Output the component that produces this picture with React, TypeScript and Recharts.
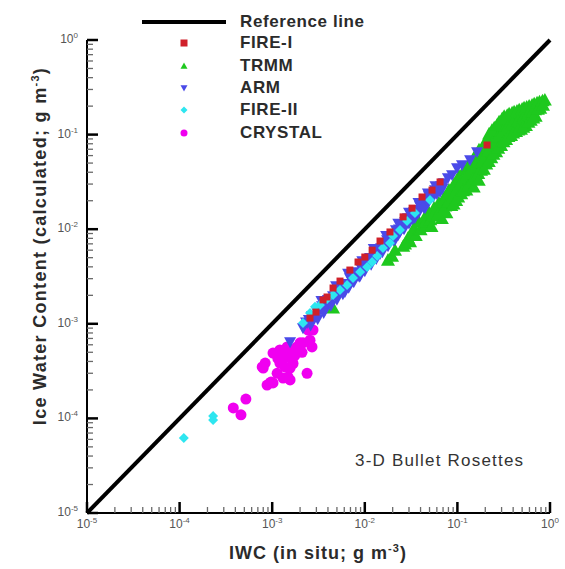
import { ScatterChart, Scatter, XAxis, YAxis, ReferenceLine, Label } from "recharts";

const FONT = "'Liberation Sans', Arial, Helvetica, sans-serif";

// IWC in situ vs calculated, g m-3
const fire1: [number, number][] = [
  [2.56e-3, 1.15e-3], [2.97e-3, 1.33e-3], [3.54e-3, 1.79e-3], [3.91e-3, 1.92e-3], [4.54e-3, 2.39e-3],
  [5.4e-3, 2.83e-3], [6.9e-3, 3.7e-3], [8.45e-3, 4.5e-3], [1.0e-2, 5.08e-3], [1.2e-2, 6.0e-3],
  [1.46e-2, 7.5e-3], [1.87e-2, 9.35e-3], [2.59e-2, 1.35e-2], [3.24e-2, 1.67e-2], [4.15e-2, 2.19e-2],
  [5.32e-2, 2.59e-2], [6.5e-2, 3.16e-2], [0.209, 7.76e-2],
];

const trmm: [number, number][] = [
  [4.54e-3, 1.47e-3],
  [1.78e-2, 4.72e-3], [1.97e-2, 5.2e-3], [2.12e-2, 6.0e-3],
  [2.6e-2, 6.6e-3], [2.72e-2, 6.98e-3], [2.93e-2, 8.07e-3], [3.08e-2, 7.4e-3], [3.24e-2, 8.9e-3],
  [3.4e-2, 1.03e-2], [3.55e-2, 8.6e-3], [3.85e-2, 1.19e-2], [4.0e-2, 9.9e-3],
  [4.4e-2, 1.31e-2], [4.55e-2, 1.1e-2], [4.5e-2, 1.2e-2],
  [4.9e-2, 1.52e-2], [5.1e-2, 1.26e-2], [5.25e-2, 1.07e-2], [5.5e-2, 1.5e-2],
  [5.6e-2, 1.68e-2], [5.85e-2, 1.39e-2], [6.5e-2, 1.7e-2],
  [6.3e-2, 1.9e-2], [6.6e-2, 1.57e-2], [6.8e-2, 1.3e-2],
  [7.2e-2, 2.15e-2], [7.4e-2, 1.76e-2], [7.6e-2, 1.5e-2], [7.8e-2, 2.3e-2],
  [8.1e-2, 2.6e-2], [8.4e-2, 2.12e-2], [8.6e-2, 1.78e-2],
  [9.2e-2, 3.0e-2], [9.5e-2, 2.48e-2], [9.7e-2, 2.02e-2], [0.1, 3.2e-2],
  [0.104, 3.66e-2], [0.108, 2.85e-2], [0.11, 2.38e-2],
  [0.118, 4.2e-2], [0.122, 3.32e-2], [0.125, 2.6e-2], [0.13, 4.3e-2],
  [0.134, 4.9e-2], [0.138, 3.85e-2], [0.141, 3.0e-2],
  [0.151, 5.7e-2], [0.156, 4.42e-2], [0.16, 3.5e-2], [0.16, 5.0e-2],
  [0.171, 6.9e-2], [0.176, 5.4e-2], [0.18, 4.22e-2], [0.185, 6.0e-2],
  [0.195, 8.0e-2], [0.2, 6.2e-2], [0.205, 4.9e-2],
  [0.22, 0.102], [0.226, 7.6e-2], [0.232, 5.7e-2], [0.24, 0.1],
  [0.25, 0.118], [0.257, 8.8e-2], [0.262, 6.6e-2],
  [0.282, 0.137], [0.29, 0.101], [0.296, 7.7e-2], [0.3, 0.12],
  [0.32, 0.156], [0.329, 0.118], [0.336, 8.9e-2], [0.35, 0.14],
  [0.362, 0.166], [0.372, 0.13], [0.38, 9.8e-2],
  [0.41, 0.174], [0.42, 0.137], [0.43, 0.108], [0.45, 0.16],
  [0.465, 0.183], [0.476, 0.144], [0.486, 0.114],
  [0.525, 0.192], [0.54, 0.158], [0.55, 0.125], [0.58, 0.18],
  [0.595, 0.2], [0.61, 0.166], [0.62, 0.142],
  [0.675, 0.212], [0.69, 0.183], [0.7, 0.157],
  [0.77, 0.222], [0.785, 0.19], [0.88, 0.232],
  // in-between readings, the cloud is solid
  [5.4e-2, 1.38e-2], [6.1e-2, 1.72e-2], [6.2e-2, 1.45e-2], [7.0e-2, 1.95e-2], [7.1e-2, 1.62e-2],
  [7.9e-2, 2.35e-2], [8.0e-2, 1.95e-2], [8.9e-2, 2.75e-2], [9.0e-2, 2.25e-2], [9.1e-2, 1.85e-2],
  [0.1, 2.7e-2], [0.102, 2.2e-2], [0.112, 3.25e-2], [0.115, 2.55e-2], [0.127, 3.75e-2],
  [0.13, 2.85e-2], [0.144, 4.4e-2], [0.148, 3.4e-2], [0.15, 2.8e-2], [0.165, 5.1e-2],
  [0.168, 3.9e-2], [0.17, 3.3e-2], [0.188, 7.2e-2], [0.19, 5.4e-2], [0.193, 4.3e-2],
  [0.21, 8.8e-2], [0.215, 6.7e-2], [0.218, 5.2e-2], [0.236, 0.111], [0.24, 8.2e-2],
  [0.245, 6.2e-2], [0.268, 0.126], [0.272, 9.4e-2], [0.276, 7.2e-2], [0.305, 0.148],
  [0.31, 0.108], [0.315, 8.4e-2], [0.345, 0.16], [0.35, 0.122], [0.355, 9.6e-2],
  [0.39, 0.17], [0.395, 0.133], [0.4, 0.104], [0.44, 0.178], [0.45, 0.14],
  [0.455, 0.112], [0.5, 0.187], [0.51, 0.15], [0.515, 0.12], [0.56, 0.196],
  [0.575, 0.162], [0.585, 0.135], [0.64, 0.206], [0.65, 0.175], [0.66, 0.15],
  [0.725, 0.217], [0.74, 0.186], [0.83, 0.228], [0.84, 0.205],
];

const arm: [number, number][] = [
  [1.56e-3, 6.4e-4], [2.15e-3, 9.0e-4], [2.38e-3, 1.02e-3], [2.32e-3, 1.04e-3], [2.49e-3, 1.1e-3],
  [2.69e-3, 1.21e-3], [2.82e-3, 1.15e-3], [3.05e-3, 1.33e-3], [3.28e-3, 1.4e-3], [3.45e-3, 1.54e-3],
  [3.72e-3, 1.58e-3], [3.72e-3, 1.4e-3], [4.0e-3, 1.79e-3], [4.2e-3, 1.7e-3], [4.54e-3, 1.97e-3],
  [4.89e-3, 2.17e-3], [5.14e-3, 2.01e-3], [5.53e-3, 2.33e-3], [5.97e-3, 2.51e-3], [6.1e-3, 2.17e-3],
  [6.43e-3, 2.64e-3], [6.9e-3, 3.05e-3], [7.28e-3, 2.83e-3], [7.83e-3, 3.36e-3], [8.45e-3, 3.53e-3],
  [8.9e-3, 3.2e-3], [9.1e-3, 3.89e-3], [9.8e-3, 4.08e-3], [1.06e-2, 4.5e-3], [1.14e-2, 4.97e-3],
  [1.2e-2, 4.72e-3], [1.29e-2, 5.6e-3], [1.39e-2, 6.0e-3], [1.46e-2, 5.47e-3], [1.5e-2, 6.32e-3],
  [1.61e-2, 7.14e-3], [1.74e-2, 7.7e-3], [1.87e-2, 8.07e-3], [2.02e-2, 8.9e-3], [2.12e-2, 7.7e-3],
  [2.17e-2, 9.8e-3], [2.34e-2, 1.0e-2], [2.4e-2, 9.35e-3], [2.52e-2, 1.13e-2], [2.72e-2, 1.19e-2],
  [2.93e-2, 1.31e-2], [3.16e-2, 1.41e-2], [3.4e-2, 1.52e-2], [3.48e-2, 1.31e-2], [3.66e-2, 1.6e-2],
  [3.94e-2, 1.76e-2], [4.25e-2, 1.89e-2], [4.47e-2, 1.67e-2], [4.58e-2, 2.04e-2], [4.93e-2, 2.24e-2],
  [5.32e-2, 2.36e-2], [5.73e-2, 2.59e-2], [6.18e-2, 2.73e-2], [6.5e-2, 2.47e-2], [6.65e-2, 2.86e-2],
  [7.16e-2, 3.08e-2], [7.9e-2, 3.48e-2], [8.75e-2, 3.74e-2], [9.9e-2, 4.44e-2], [0.112, 4.78e-2],
  [0.137, 5.39e-2], [0.163, 6.55e-2],
  // lower and upper side of the band
  [2.6e-3, 9.6e-4], [3.1e-3, 1.12e-3], [3.6e-3, 1.3e-3], [4.3e-3, 1.55e-3], [5.0e-3, 1.8e-3],
  [5.8e-3, 2.05e-3], [6.7e-3, 2.4e-3], [7.6e-3, 2.75e-3], [8.7e-3, 3.15e-3], [1.0e-2, 3.6e-3],
  [1.17e-2, 4.2e-3], [1.33e-2, 4.85e-3], [1.55e-2, 5.7e-3], [1.78e-2, 6.6e-3], [2.05e-2, 7.6e-3],
  [2.3e-2, 8.7e-3], [2.65e-2, 1.0e-2], [3.0e-2, 1.15e-2], [3.3e-2, 1.28e-2], [3.8e-2, 1.48e-2],
  [4.3e-2, 1.7e-2], [4.8e-2, 1.9e-2], [5.5e-2, 2.2e-2], [6.0e-2, 2.35e-2], [6.9e-2, 2.7e-2],
  [3.4e-3, 1.75e-3], [4.9e-3, 2.5e-3], [6.6e-3, 3.4e-3], [9.4e-3, 4.6e-3], [1.25e-2, 6.2e-3],
  [1.7e-2, 8.5e-3], [2.3e-2, 1.15e-2], [3.0e-2, 1.5e-2], [3.8e-2, 1.9e-2], [4.8e-2, 2.4e-2],
  [5.8e-2, 2.85e-2],
];

const fire2: [number, number][] = [
  [1.11e-4, 6.2e-5], [2.3e-4, 1.06e-4], [2.3e-4, 9.6e-5], [2.15e-3, 1.02e-3], [2.56e-3, 1.3e-3],
  [2.9e-3, 1.51e-3], [3.28e-3, 1.58e-3], [3.91e-3, 1.83e-3], [4.54e-3, 2.01e-3], [5.4e-3, 2.28e-3],
  [6.43e-3, 2.57e-3], [7.46e-3, 3.05e-3], [8.9e-3, 3.53e-3], [1.06e-2, 3.98e-3], [1.2e-2, 4.5e-3],
  [1.36e-2, 5.2e-3], [1.57e-2, 6.32e-3], [1.87e-2, 7.14e-3], [2.02e-2, 8.5e-3], [2.4e-2, 9.8e-3],
  [2.86e-2, 1.22e-2], [3.48e-2, 1.48e-2], [5.06e-2, 2.04e-2],
];

const crystal: [number, number][] = [
  [3.8e-4, 1.29e-4], [4.6e-4, 1.09e-4], [5.2e-4, 1.6e-4], [7.8e-4, 3.5e-4], [8.4e-4, 3.85e-4],
  [8.0e-4, 3.4e-4], [8.8e-4, 2.25e-4], [9.5e-4, 2.37e-4], [9.7e-4, 2.42e-4], [1.02e-3, 4.9e-4],
  [1.02e-3, 2.37e-4], [1.13e-3, 3.0e-4], [1.15e-3, 4.3e-4], [1.21e-3, 3.85e-4], [1.21e-3, 5.3e-4],
  [1.28e-3, 4.9e-4], [1.31e-3, 2.67e-4], [1.37e-3, 5.0e-4], [1.37e-3, 3.5e-4], [1.45e-3, 4.46e-4],
  [1.45e-3, 5.7e-4], [1.48e-3, 2.74e-4], [1.56e-3, 3.4e-4], [1.56e-3, 2.55e-4], [1.64e-3, 4.14e-4],
  [1.68e-3, 5.3e-4], [1.68e-3, 3.8e-4], [1.75e-3, 4.6e-4], [1.85e-3, 5.7e-4], [2.0e-3, 6.3e-4],
  [2.1e-3, 5.0e-4], [2.15e-3, 6.3e-4], [2.38e-3, 3.0e-4], [2.56e-3, 6.7e-4], [2.69e-3, 5.7e-4],
  [2.76e-3, 8.6e-4], [2.44e-3, 8.6e-4],
];

const decades = [1e-5, 1e-4, 1e-3, 1e-2, 1e-1, 1];
const minorSteps = [2, 3, 4, 5, 6, 7, 8, 9];
const logTicks = decades.flatMap((d, i) =>
  i === decades.length - 1 ? [d] : [d, ...minorSteps.map((m) => +(d * m).toPrecision(3))]
);

const toPoints = (arr: [number, number][]) => arr.map(([x, y]) => ({ x, y }));

const COLORS = {
  fire1: "#d0202a",
  trmm: "#1ec81e",
  arm: "#4a4ae8",
  fire2: "#2ee6f0",
  crystal: "#f000f0",
};

const Square = ({ cx, cy, fill, s = 3 }: any) => <rect x={cx - s} y={cy - s} width={s * 2} height={s * 2} fill={fill} />;
const TriUp = ({ cx, cy, fill, s = 5 }: any) => (
  <polygon points={`${cx},${cy - s} ${cx - s},${cy + s * 0.8} ${cx + s},${cy + s * 0.8}`} fill={fill} />
);
const TriDown = ({ cx, cy, fill, s = 5 }: any) => (
  <polygon points={`${cx - s},${cy - s * 0.8} ${cx + s},${cy - s * 0.8} ${cx},${cy + s}`} fill={fill} />
);
const Diamond = ({ cx, cy, fill, s = 5 }: any) => (
  <polygon points={`${cx},${cy - s} ${cx + s},${cy} ${cx},${cy + s} ${cx - s},${cy}`} fill={fill} />
);
const Dot = ({ cx, cy, fill, s = 5 }: any) => <circle cx={cx} cy={cy} r={s} fill={fill} />;

const isMajor = (v: number) => Math.abs(Math.log10(v) - Math.round(Math.log10(v))) < 1e-6;

// ticks point into the plot; labels only on the decades
function XTick(props: any) {
  const x = Number(props.x);
  const y = Number(props.y);
  const v = props.payload.value;
  const major = isMajor(v);
  return (
    <g>
      <path d={`M${x},${y}V${y - (major ? 11 : 6)}`} stroke={major ? "#000" : "#6a6a6a"} strokeWidth={major ? 2.5 : 1.3} fill="none" />
      {major && (
        <text x={x} y={y + 15} textAnchor="middle" fontSize={12} fill="#555" fontFamily={FONT}>
          10<tspan dy={-5} fontSize={8}>{Math.round(Math.log10(v))}</tspan>
        </text>
      )}
    </g>
  );
}

function YTick(props: any) {
  const x = Number(props.x);
  const y = Number(props.y);
  const v = props.payload.value;
  const major = isMajor(v);
  return (
    <g>
      <path d={`M${x},${y}H${x + (major ? 11 : 6)}`} stroke={major ? "#000" : "#6a6a6a"} strokeWidth={major ? 2.5 : 1.3} fill="none" />
      {major && (
        <text x={x - 9} y={y + 3} textAnchor="end" fontSize={12} fill="#555" fontFamily={FONT}>
          10<tspan dy={-5} fontSize={8}>{Math.round(Math.log10(v))}</tspan>
        </text>
      )}
    </g>
  );
}

const legendRows = [
  { name: "FIRE-I", color: COLORS.fire1, Shape: Square, y: 43 },
  { name: "TRMM", color: COLORS.trmm, Shape: TriUp, y: 66 },
  { name: "ARM", color: COLORS.arm, Shape: TriDown, y: 88 },
  { name: "FIRE-II", color: COLORS.fire2, Shape: Diamond, y: 110 },
  { name: "CRYSTAL", color: COLORS.crystal, Shape: Dot, y: 133 },
];

const legendText = { marginLeft: 14, fontFamily: FONT, fontWeight: 700, fontSize: 17, color: "#2b2b2b", letterSpacing: 0.6 };

export default function App() {
  return (
    <div style={{ position: "absolute", left: 0, top: 0, width: 565, height: 569 }}>
      <ScatterChart width={565} height={569} margin={{ top: 40, right: 15, bottom: 0, left: 0 }}>
        <XAxis
          dataKey="x"
          type="number"
          scale="log"
          domain={[1e-5, 1]}
          ticks={logTicks}
          interval={0}
          height={56}
          tickSize={0}
          tickMargin={0}
          tickLine={false}
          tick={<XTick />}
          axisLine={{ stroke: "#000", strokeWidth: 2 }}
        >
          <Label
            content={() => (
              <text x={318} y={559} textAnchor="middle" fontFamily={FONT} fontWeight={700} fontSize={18} fill="#2b2b2b" letterSpacing={1}>
                IWC (in situ; g m<tspan dy={-7} fontSize={11}>-3</tspan>
                <tspan dy={7}>)</tspan>
              </text>
            )}
          />
        </XAxis>
        <YAxis
          dataKey="y"
          type="number"
          scale="log"
          domain={[1e-5, 1]}
          ticks={logTicks}
          interval={0}
          width={87}
          tickSize={0}
          tickMargin={0}
          tickLine={false}
          tick={<YTick />}
          axisLine={{ stroke: "#000", strokeWidth: 2 }}
        >
          <Label
            content={() => (
              <text transform="translate(46,246) rotate(-90)" textAnchor="middle" fontFamily={FONT} fontWeight={700} fontSize={18} fill="#2b2b2b" letterSpacing={1.3}>
                Ice Water Content (calculated; g m<tspan dy={-7} fontSize={11}>-3</tspan>
                <tspan dy={7}>)</tspan>
              </text>
            )}
          />
        </YAxis>
        <ReferenceLine
          segment={[{ x: 1e-5, y: 1e-5 }, { x: 1, y: 1 }]}
          stroke="#000"
          strokeWidth={4}
        />
        <Scatter data={toPoints(crystal)} fill={COLORS.crystal} shape={(p: any) => <Dot {...p} s={5.5} />} isAnimationActive={false} />
        <Scatter data={toPoints(trmm)} fill={COLORS.trmm} shape={(p: any) => <TriUp {...p} s={7} />} isAnimationActive={false} />
        <Scatter data={toPoints(arm)} fill={COLORS.arm} shape={(p: any) => <TriDown {...p} s={6} />} isAnimationActive={false} />
        <Scatter data={toPoints(fire2)} fill={COLORS.fire2} shape={(p: any) => <Diamond {...p} s={5} />} isAnimationActive={false} />
        <Scatter data={toPoints(fire1)} fill={COLORS.fire1} shape={(p: any) => <Square {...p} s={3.5} />} isAnimationActive={false} />
      </ScatterChart>

      <div style={{ position: "absolute", left: 142, top: 11, height: 22, display: "flex", alignItems: "center" }}>
        <svg width={84} height={22}>
          <line x1={0} x2={84} y1={11} y2={11} stroke="#000" strokeWidth={4} />
        </svg>
        <span style={legendText}>Reference line</span>
      </div>
      {legendRows.map(({ name, color, Shape, y }) => (
        <div key={name} style={{ position: "absolute", left: 142, top: y - 11, height: 22, display: "flex", alignItems: "center" }}>
          <svg width={84} height={22}>
            <Shape cx={42} cy={11} fill={color} s={3.5} />
          </svg>
          <span style={legendText}>{name}</span>
        </div>
      ))}

      <div style={{ position: "absolute", left: 355, top: 451, fontFamily: FONT, fontSize: 17, color: "#333", letterSpacing: 1.2, whiteSpace: "nowrap" }}>
        3-D Bullet Rosettes
      </div>
    </div>
  );
}
